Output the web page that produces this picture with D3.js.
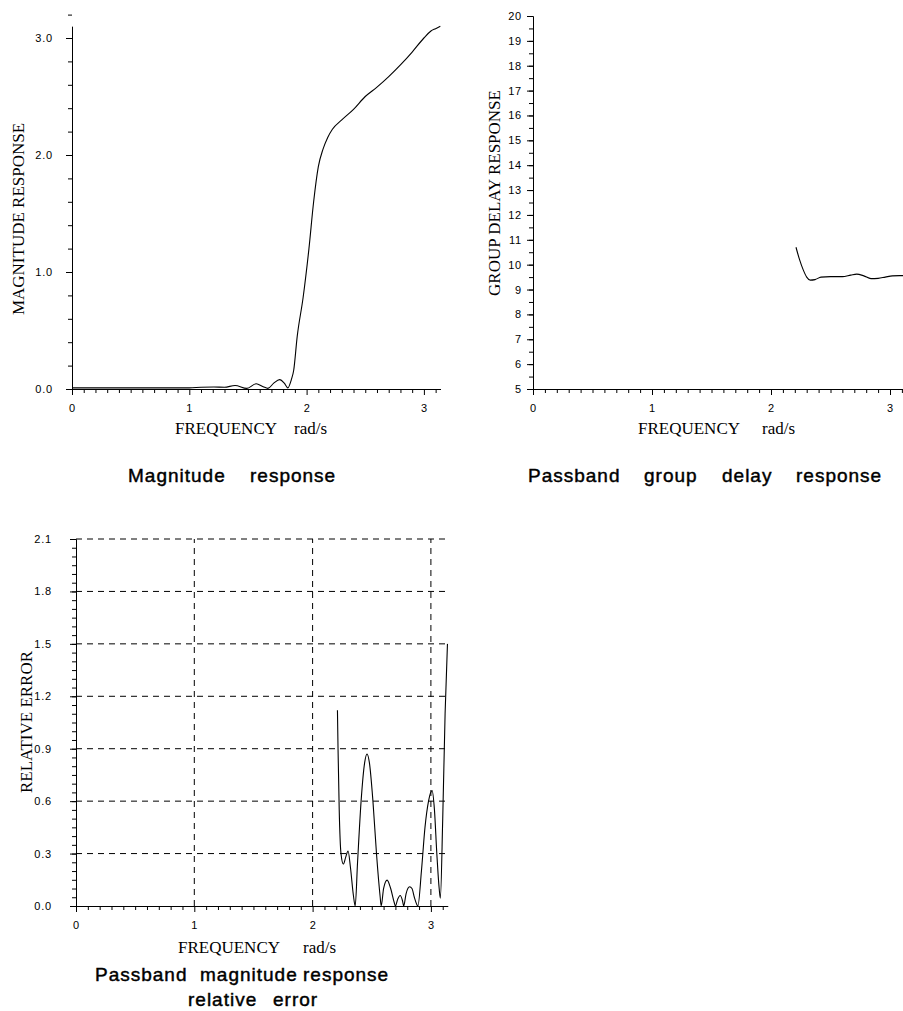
<!DOCTYPE html>
<html>
<head>
<meta charset="utf-8">
<script src="https://cdn.jsdelivr.net/npm/d3@7"></script>
<style>
  body { margin: 0; background: #fff; }
  .tick text { font-family: "Liberation Sans", Arial, sans-serif; font-size: 11px; letter-spacing: 0.8px; fill: #000; }
  .axis path, .axis line { stroke: #000; stroke-width: 1; }
  .serif { font-family: "Liberation Serif", "Times New Roman", serif; font-size: 17px; fill: #000; }
  .caption { font-family: "Liberation Sans", Arial, sans-serif; font-size: 19px; letter-spacing: 1px; fill: #000; stroke: #000; stroke-width: 0.45px; }
</style>
</head>
<body>
<div id="chart"></div>
<script>
var width = 903, height = 1011;

// Magnitude response
var magFreq  = [0, 0.2, 0.4, 0.6, 0.8, 1.0, 1.1, 1.21, 1.3, 1.39, 1.49, 1.57, 1.63, 1.67, 1.72, 1.77, 1.81, 1.84, 1.87, 1.89, 1.92, 1.97, 2.02, 2.06, 2.1, 2.14, 2.18, 2.22, 2.3, 2.4, 2.5, 2.6, 2.7, 2.8, 2.9, 3.0, 3.06, 3.1, 3.14];
var magValue = [0.01, 0.01, 0.01, 0.01, 0.01, 0.01, 0.015, 0.017, 0.015, 0.03, 0.005, 0.045, 0.02, 0.005, 0.05, 0.08, 0.05, 0.01, 0.08, 0.16, 0.45, 0.78, 1.2, 1.6, 1.9, 2.05, 2.15, 2.22, 2.3, 2.39, 2.5, 2.58, 2.67, 2.77, 2.88, 3.0, 3.06, 3.08, 3.1];

// Passband group delay
var gdFreq  = [2.21, 2.24, 2.27, 2.30, 2.33, 2.37, 2.42, 2.5, 2.6, 2.67, 2.72, 2.78, 2.84, 2.9, 2.96, 3.02, 3.08, 3.14];
var gdValue = [10.7, 10.2, 9.8, 9.5, 9.38, 9.4, 9.5, 9.52, 9.52, 9.58, 9.62, 9.55, 9.44, 9.45, 9.5, 9.55, 9.56, 9.56];

// Passband magnitude relative error
var errFreq  = [2.21, 2.215, 2.225, 2.24, 2.26, 2.28, 2.30, 2.32, 2.345, 2.36, 2.38, 2.41, 2.44, 2.46, 2.48, 2.51, 2.54, 2.57, 2.58, 2.6, 2.63, 2.66, 2.69, 2.70, 2.72, 2.74, 2.76, 2.77, 2.79, 2.82, 2.84, 2.86, 2.88, 2.89, 2.92, 2.95, 2.98, 3.01, 3.03, 3.05, 3.07, 3.08, 3.1, 3.12, 3.14];
var errValue = [1.12, 0.9, 0.55, 0.3, 0.24, 0.28, 0.315, 0.22, 0.06, 0, 0.25, 0.6, 0.82, 0.87, 0.82, 0.6, 0.3, 0.06, 0, 0.1, 0.148, 0.1, 0.02, 0, 0.04, 0.06, 0.03, 0, 0.07, 0.11, 0.1, 0.05, 0.01, 0, 0.2, 0.45, 0.6, 0.66, 0.55, 0.3, 0.1, 0.045, 0.5, 1.1, 1.5];

var freqTicks = [0, 1, 2, 3];
var magTicks = [0, 1, 2, 3];
var gdTicks = d3.range(5, 21);
var errTicks = [0, 0.3, 0.6, 0.9, 1.2, 1.5, 1.8, 2.1];

var svg = d3.select("#chart").append("svg")
    .attr("width", width)
    .attr("height", height)
    .style("display", "block");

function isMajor(v) { return Math.abs(v - Math.round(v)) < 1e-6; }

// x axis with minor ticks every 0.1
function drawXAxis(x, y0) {
    var minor = d3.range(1, 32).map(function(i) { return i / 10; }).filter(function(v) { return !isMajor(v); });
    svg.append("g").attr("class", "axis")
        .attr("transform", "translate(0," + y0 + ")")
        .call(d3.axisBottom(x).tickValues(minor).tickSize(4).tickSizeOuter(0).tickFormat(""));
    svg.append("g").attr("class", "axis")
        .attr("transform", "translate(0," + y0 + ")")
        .call(d3.axisBottom(x).tickValues(freqTicks).tickSize(6).tickSizeOuter(0).tickPadding(9).tickFormat(d3.format("d")));
}

function drawYAxis(y, x0, ticks, minorStep, fmt, pad) {
    var d = y.domain();
    var minor = d3.range(Math.round((d[1] - d[0]) / minorStep) + 1).map(function(i) { return d[0] + i * minorStep; });
    svg.append("g").attr("class", "axis")
        .attr("transform", "translate(" + x0 + ",0)")
        .call(d3.axisLeft(y).tickValues(minor).tickSize(4).tickSizeOuter(0).tickFormat(""));
    svg.append("g").attr("class", "axis")
        .attr("transform", "translate(" + x0 + ",0)")
        .call(d3.axisLeft(y).tickValues(ticks).tickSize(6).tickSizeOuter(0).tickPadding(pad).tickFormat(fmt));
}

function serifText(x, y, txt, rotate) {
    var t = svg.append("text").attr("class", "serif").text(txt);
    if (rotate) {
        t.attr("text-anchor", "middle").attr("transform", "translate(" + x + "," + y + ") rotate(-90)");
    } else {
        t.attr("x", x).attr("y", y);
    }
}

function caption(words, xs, y) {
    var t = svg.append("text").attr("class", "caption").attr("y", y);
    words.forEach(function(w, i) {
        t.append("tspan").attr("x", xs[i]).text(w);
    });
}

// ---- Magnitude response (top left)
var x1 = d3.scaleLinear().domain([0, Math.PI]).range([72, 72 + 117.3 * Math.PI]);
var y1 = d3.scaleLinear().domain([0, 3.1]).range([389, 389 - 117 * 3.1]);
drawXAxis(x1, 389);
drawYAxis(y1, 72, magTicks, 0.2, d3.format(".1f"), 13);

svg.append("path")
    .datum(d3.zip(magFreq, magValue))
    .attr("fill", "none")
    .attr("stroke", "#000")
    .attr("stroke-width", 1.1)
    .attr("d", d3.line().x(function(d) { return x1(d[0]); }).y(function(d) { return y1(d[1]); }).curve(d3.curveMonotoneX));

serifText(24, 219, "MAGNITUDE RESPONSE", true);
serifText(175, 434, "FREQUENCY");
serifText(294, 434, "rad/s");
caption(["Magnitude", "response"], [128, 250], 482);

// ---- Group delay (top right)
var x2 = d3.scaleLinear().domain([0, Math.PI]).range([533, 533 + 119 * Math.PI]);
var y2 = d3.scaleLinear().domain([5, 20]).range([389, 16]);
drawXAxis(x2, 389);
drawYAxis(y2, 533, gdTicks, 0.5, d3.format("d"), 5);

svg.append("path")
    .datum(d3.zip(gdFreq, gdValue))
    .attr("fill", "none")
    .attr("stroke", "#000")
    .attr("stroke-width", 1.1)
    .attr("d", d3.line().x(function(d) { return x2(d[0]); }).y(function(d) { return y2(d[1]); }).curve(d3.curveMonotoneX));

serifText(500, 193, "GROUP DELAY RESPONSE", true);
serifText(638, 434, "FREQUENCY");
serifText(762, 434, "rad/s");
caption(["Passband", "group", "delay", "response"], [528, 644, 722, 796], 482);

// ---- Relative error (bottom)
var x3 = d3.scaleLinear().domain([0, Math.PI]).range([76, 76 + 118.3 * Math.PI]);
var y3 = d3.scaleLinear().domain([0, 2.1]).range([906, 539]);

// dashed grid
svg.append("g").selectAll("line")
    .data(errTicks.slice(1))
    .join("line")
    .attr("x1", x3(0)).attr("x2", x3(Math.PI))
    .attr("y1", function(d) { return y3(d); }).attr("y2", function(d) { return y3(d); })
    .attr("stroke", "#000").attr("stroke-dasharray", "6,5");
svg.append("g").selectAll("line")
    .data(freqTicks.slice(1))
    .join("line")
    .attr("x1", function(d) { return x3(d); }).attr("x2", function(d) { return x3(d); })
    .attr("y1", y3(0)).attr("y2", y3(2.1))
    .attr("stroke", "#000").attr("stroke-dasharray", "6,5");

drawXAxis(x3, 906);
drawYAxis(y3, 76, errTicks, 0.05, d3.format(".1f"), 18);

svg.append("path")
    .datum(d3.zip(errFreq, errValue))
    .attr("fill", "none")
    .attr("stroke", "#000")
    .attr("stroke-width", 1.1)
    .attr("d", d3.line().x(function(d) { return x3(d[0]); }).y(function(d) { return y3(d[1]); }).curve(d3.curveMonotoneX));

serifText(32, 722, "RELATIVE ERROR", true);
serifText(178, 953, "FREQUENCY");
serifText(303, 953, "rad/s");
caption(["Passband", "magnitude", "response"], [95, 200, 303], 981);
caption(["relative", "error"], [188, 273], 1006);
</script>
</body>
</html>
